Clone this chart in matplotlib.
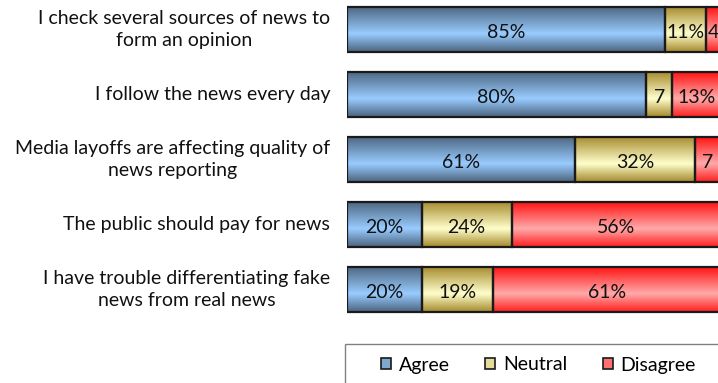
import numpy as np
import matplotlib
matplotlib.use("Agg")
import matplotlib.pyplot as plt
from matplotlib.colors import LinearSegmentedColormap
from matplotlib.patches import Patch, Rectangle

categories = [
    "I check several sources of news to\nform an opinion",
    "I follow the news every day",
    "Media layoffs are affecting quality of\nnews reporting",
    "The public should pay for news",
    "I have trouble differentiating fake\nnews from real news",
]
series_names = ["Agree", "Neutral", "Disagree"]
agree = [85, 80, 61, 20, 20]
neutral = [11, 7, 32, 24, 19]
disagree = [4, 13, 7, 56, 61]

plt.rcParams['font.family'] = ['Lato', 'DejaVu Sans']
FS = 14

fig = plt.figure(figsize=(7.18, 3.83), dpi=100)
W, H = 718, 383
x0, x1 = 347, 721
ytop, ybot = -3, 322
ax = fig.add_axes([x0 / W, (H - ybot) / H, (x1 - x0) / W, (ybot - ytop) / H])
ax.axis('off')

def make_cmap(dark_top, light, dark_bot):
    return LinearSegmentedColormap.from_list('g', [(0, dark_top), (0.6, light), (1, dark_bot)])

cmaps = [
    make_cmap('#4c6580', '#99ccff', '#4c6580'),
    make_cmap('#a58a2c', '#ffffcc', '#a58a2c'),
    make_cmap('#ff1010', '#ffaaaa', '#ff2020'),
]
grad = np.linspace(0, 1, 64).reshape(-1, 1)

y = np.arange(len(categories))
height = 0.7
left = np.zeros(len(categories))
for vals, cmap in zip([agree, neutral, disagree], cmaps):
    vals = np.array(vals, dtype=float)
    bars = ax.barh(y, vals, left=left, height=height, color='none',
                   edgecolor='#1a1a1a', linewidth=1.6, zorder=3)
    for b, v, l, yi in zip(bars, vals, left, y):
        im = ax.imshow(grad, cmap=cmap, aspect='auto',
                       extent=[l, l + v, yi + height / 2, yi - height / 2],
                       zorder=2, interpolation='bicubic')
        im.set_clip_path(b)
        lab = f"{int(v)}%" if v >= 10 else f"{int(v)}"
        ax.text(l + v / 2, yi + 0.04, lab, ha='center', va='center',
                fontsize=FS, color='#111111', zorder=4, clip_on=False)
    left = left + vals

ax.set_xlim(0, 100)
ax.set_ylim(len(categories) - 0.5, -0.5)

for yi, cat in zip(y, categories):
    ax.text(-4.5, yi, cat, ha='right', va='center', multialignment='center',
            fontsize=FS, color='#111111', linespacing=1.3)

# legend frame (extends past the right and bottom edges, as in the reference)
fig.patches.append(Rectangle((345 / W, -20 / H), 400 / W, (383 - 344 + 20) / H,
                             transform=fig.transFigure, facecolor='white',
                             edgecolor='#808080', linewidth=1.0, zorder=0))

handles = [Patch(facecolor=c, edgecolor='#1a1a1a', linewidth=1.2)
           for c in ['#7fa8d0', '#e6dc9a', '#ff7070']]
leg = fig.legend(handles, series_names, loc='center left',
                 bbox_to_anchor=(381 / W, 1 - 365 / H),
                 ncol=3, frameon=False, fontsize=FS,
                 handlelength=0.5, handleheight=0.5, handletextpad=0.4,
                 columnspacing=1.85, borderaxespad=0, borderpad=0)

fig.savefig('out.png', dpi=100)
